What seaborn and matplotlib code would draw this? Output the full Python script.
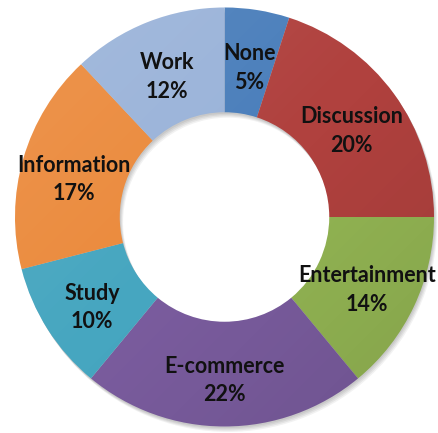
import matplotlib
matplotlib.use("Agg")
import matplotlib.pyplot as plt
import numpy as np
import seaborn as sns

categories = ["None", "Discussion", "Entertainment", "E-commerce", "Study", "Information", "Work"]
shares = [5, 20, 14, 22, 10, 17, 12]
colors = ["#4A7EBB", "#B0413E", "#93B553", "#7A5C9E", "#46A6C0", "#EB8A3C", "#9AB3D9"]

sns.set_theme(style="white")
plt.rcParams["font.family"] = ["Lato", "DejaVu Sans"]

W, H = 438, 433
fig = plt.figure(figsize=(W / 100, H / 100), dpi=100)
cx, cy, r = 224.5, 217, 209.5
ax = fig.add_axes([(cx - r) / W, (H - cy - r) / H, 2 * r / W, 2 * r / H])

# soft drop shadow behind the ring
for k, a in enumerate([0.06, 0.06, 0.06, 0.05]):
    ax.pie(shares, colors=["#000000"] * len(shares), startangle=90, counterclock=False,
           radius=1.0, center=(0.004 + 0.004 * k, -0.008 - 0.006 * k),
           wedgeprops=dict(width=0.5, linewidth=0, alpha=a))

wedges, _ = ax.pie(shares, colors=colors, startangle=90, counterclock=False,
                   radius=1.0, wedgeprops=dict(width=0.5, linewidth=0))

# gentle lighting: lighter towards the upper left, darker towards the lower right
yy, xx = np.mgrid[1:-1:200j, -1:1:200j]
t = np.clip((xx - yy) / 2.8, -1, 1)
light = np.zeros((200, 200, 4))
light[..., :3] = np.where(t[..., None] < 0, 1.0, 0.0)
light[..., 3] = np.abs(t) * 0.14
for w in wedges:
    im = ax.imshow(light, extent=(-1, 1, -1, 1), origin="upper", zorder=w.get_zorder() + 0.1,
                   interpolation="bilinear")
    im.set_clip_path(w)

for name, val, w in zip(categories, shares, wedges):
    mid = np.deg2rad((w.theta1 + w.theta2) / 2)
    x, y = 0.75 * np.cos(mid), 0.75 * np.sin(mid) - 0.03
    ax.text(x, y, f"{name}\n{val}%", ha="center", va="center", fontsize=15.5,
            fontweight="bold", color="#111111", linespacing=1.45, zorder=5)

ax.set_aspect("auto")
ax.set_xlim(-1, 1)
ax.set_ylim(-1, 1)
ax.axis("off")
fig.savefig("out.png", dpi=100, facecolor="white")
